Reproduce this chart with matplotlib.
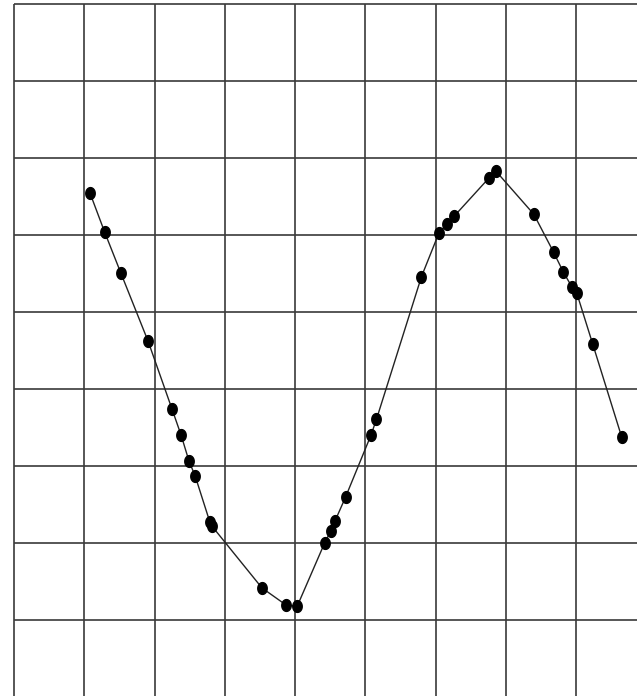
import numpy as np
import matplotlib
matplotlib.use("Agg")
import matplotlib.pyplot as plt
from matplotlib.path import Path

# Data in grid units (x: columns from left border, y: rows above the lowest grid line)
x_vals = [1.08, 1.29, 1.52, 1.91, 2.25, 2.38, 2.49, 2.58, 2.79, 2.82,
          3.53, 3.87, 4.03, 4.42, 4.51, 4.57, 4.72, 5.08, 5.16,
          5.80, 6.05, 6.16, 6.27, 6.76, 6.86, 7.40, 7.68, 7.82, 7.94, 8.01,
          8.24, 8.65]
y_vals = [5.55, 5.04, 4.51, 3.62, 2.74, 2.40, 2.07, 1.87, 1.27, 1.22,
          0.42, 0.20, 0.18, 1.00, 1.16, 1.29, 1.60, 2.40, 2.61,
          4.46, 5.03, 5.14, 5.25, 5.74, 5.83, 5.27, 4.78, 4.52, 4.33, 4.25,
          3.58, 2.38]
grid_x = [0, 1, 2, 3, 4, 5, 6, 7, 8]
grid_y = [0, 1, 2, 3, 4, 5, 6, 7, 8]

W, H = 637, 696
dpi = 100
fig = plt.figure(figsize=(W / dpi, H / dpi), dpi=dpi)
ax = fig.add_axes([0, 0, 1, 1])
sx, sy = 70.25, 77.04
x0, y0 = 14, 620.3
ax.set_xlim(-x0 / sx, (W - x0) / sx)
ax.set_ylim(-(H - y0) / sy, y0 / sy)
ax.axis('off')

xmin, xmax = ax.get_xlim()
ymin, ymax = ax.get_ylim()
gc = '#3a3a3a'
ax.vlines(grid_x, ymin, max(grid_y), colors=gc, linewidth=1.2, zorder=1)
ax.hlines(grid_y, min(grid_x), xmax, colors=gc, linewidth=1.2, zorder=1)

t = np.linspace(0, 2 * np.pi, 60)
ell = Path(np.column_stack([0.8 * np.cos(t), np.sin(t)]), closed=True)
ax.plot(x_vals, y_vals, color='#222222', linewidth=1.0, zorder=2)
ax.plot(x_vals, y_vals, linestyle='none', marker=ell, markersize=8.5,
        color='black', zorder=3)

fig.savefig('out.png', dpi=dpi, facecolor='white')
